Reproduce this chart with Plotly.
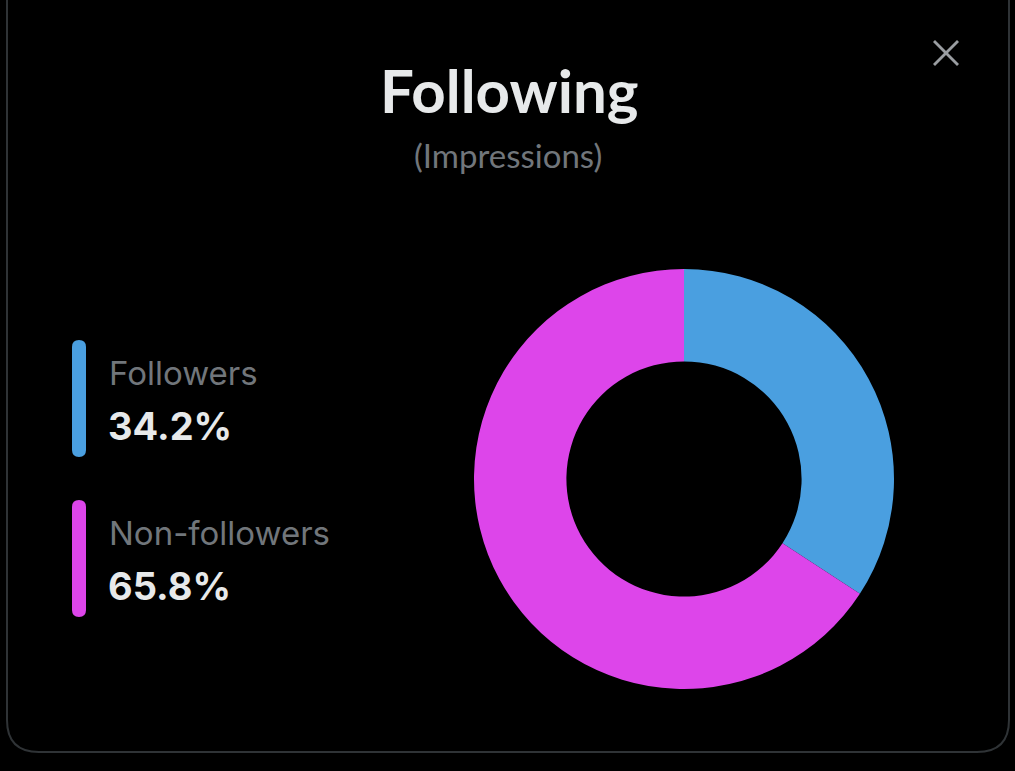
import plotly.graph_objects as go

# ---- data ----
categories = ["Followers", "Non-followers"]
values = [34.2, 65.8]
colors = ["#4A9FE0", "#DD45EA"]
title_text = "Following"
subtitle_text = "(Impressions)"

W, H = 1015, 771
BG = "#000000"
TXT = "#E7E9EA"
GRAY = "#71767B"

fig = go.Figure()

# donut
cx, cy, R = 684, 479, 210
fig.add_trace(go.Pie(
    labels=categories,
    values=values,
    hole=0.56,
    sort=False,
    direction="clockwise",
    rotation=0,
    marker=dict(colors=colors, line=dict(width=0)),
    textinfo="none",
    hoverinfo="label+percent",
    showlegend=False,
    domain=dict(x=[(cx - R) / W, (cx + R) / W], y=[(H - cy - R) / H, (H - cy + R) / H]),
))


def rounded_rect(x0, y0, x1, y1, r):
    return (f"M{x0 + r},{y0} L{x1 - r},{y0} Q{x1},{y0} {x1},{y0 + r} "
            f"L{x1},{y1 - r} Q{x1},{y1} {x1 - r},{y1} L{x0 + r},{y1} "
            f"Q{x0},{y1} {x0},{y1 - r} L{x0},{y0 + r} Q{x0},{y0} {x0 + r},{y0} Z")


shapes = []
# card border
shapes.append(dict(type="path", xref="x", yref="y", path=rounded_rect(7, -40, 1009, 752, 32),
                   line=dict(color="#2F3336", width=2), fillcolor="rgba(0,0,0,0)", layer="below"))

# close icon
for (x0, y0, x1, y1) in [(934, 41, 958, 65), (934, 65, 958, 41)]:
    shapes.append(dict(type="line", xref="x", yref="y", x0=x0, y0=y0, x1=x1, y1=y1,
                       line=dict(color="#9A9DA1", width=2.8)))

annotations = [
    dict(text=title_text, x=W / 2 + 1, y=90, xref="x", yref="y", showarrow=False,
         xanchor="center", yanchor="middle",
         font=dict(family="Lato", size=60, color=TXT, weight="bold")),
    dict(text=subtitle_text, x=W / 2, y=155, xref="x", yref="y", showarrow=False,
         xanchor="center", yanchor="middle",
         font=dict(family="Lato", size=33, color=GRAY)),
]

# legend-like blocks
rows = [(340, 457), (500, 617)]
for i, (cat, val, col) in enumerate(zip(categories, values, colors)):
    ytop, ybot = rows[i]
    shapes.append(dict(type="path", xref="x", yref="y", path=rounded_rect(72, ytop, 86, ybot, 7),
                       fillcolor=col, line=dict(width=0)))
    annotations.append(dict(text=cat, x=107, y=ytop + 33, xref="x", yref="y", showarrow=False,
                            xanchor="left", yanchor="middle",
                            font=dict(family="Inter", size=33, color=GRAY)))
    annotations.append(dict(text=f"{val:.1f}%", x=106, y=ytop + 86, xref="x", yref="y", showarrow=False,
                            xanchor="left", yanchor="middle",
                            font=dict(family="Inter", size=38, color=TXT, weight="bold")))

fig.update_layout(
    width=W, height=H,
    margin=dict(l=0, r=0, t=0, b=0),
    paper_bgcolor=BG, plot_bgcolor=BG,
    xaxis=dict(range=[0, W], visible=False, domain=[0, 1], fixedrange=True),
    yaxis=dict(range=[H, 0], visible=False, domain=[0, 1], fixedrange=True),
    shapes=shapes,
    annotations=annotations,
)

fig.write_html("out.html",
               config={"displayModeBar": False},
               post_script="document.body.style.margin='0';document.body.style.background='#000';")
